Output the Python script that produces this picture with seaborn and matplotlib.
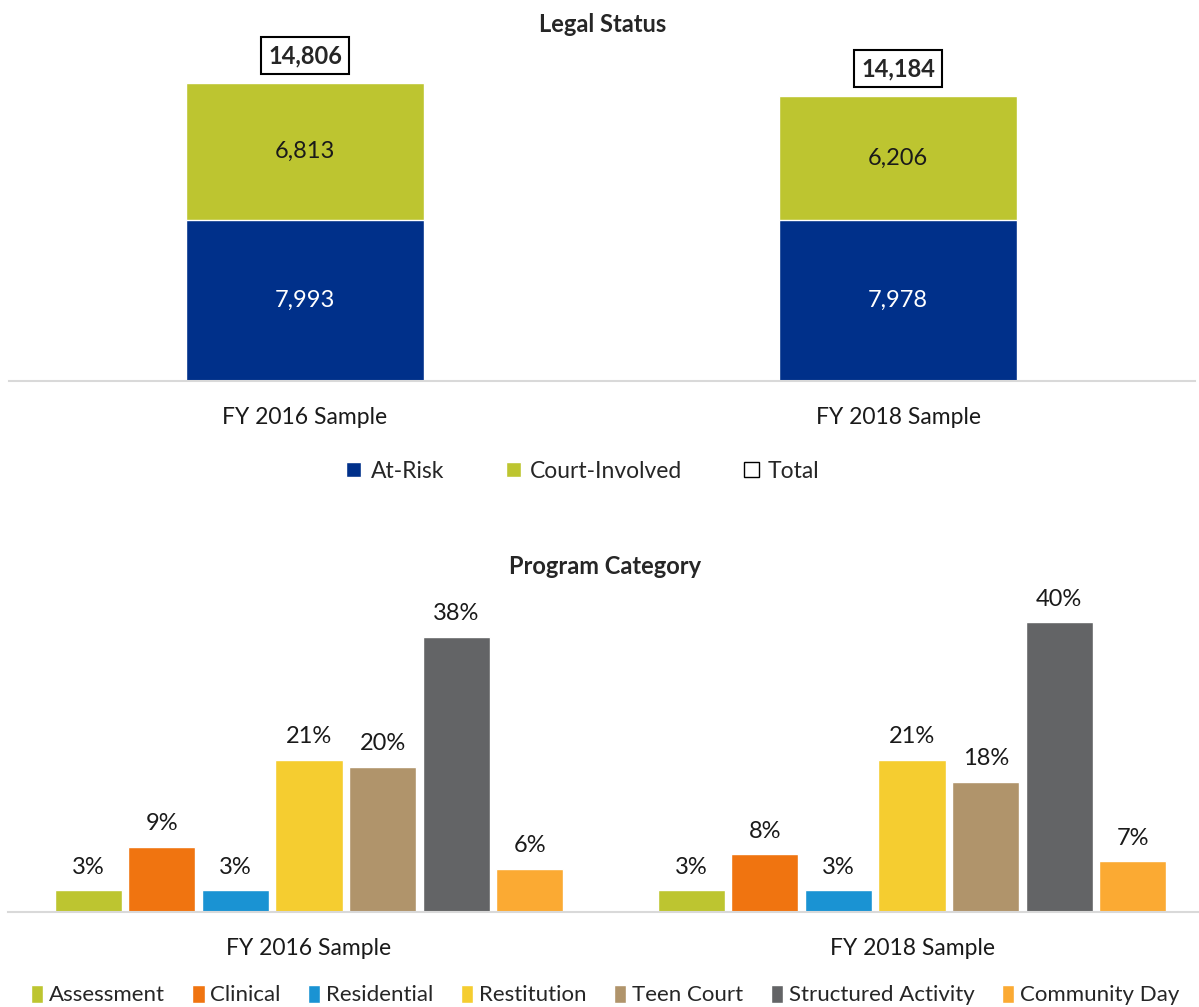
import numpy as np
import pandas as pd
import seaborn as sns
import matplotlib.pyplot as plt
from matplotlib.patches import Patch

# data
samples = ["FY 2016 Sample", "FY 2018 Sample"]
at_risk = [7993, 7978]
court_involved = [6813, 6206]

categories = ["Assessment", "Clinical", "Residential", "Restitution",
              "Teen Court", "Structured Activity", "Community Day"]
pct_2016 = [3, 9, 3, 21, 20, 38, 6]
pct_2018 = [3, 8, 3, 21, 18, 40, 7]

status_colors = {"At-Risk": "#00308A", "Court-Involved": "#BDC530"}
cat_colors = ["#BDC530", "#F07410", "#1A93D3", "#F5CD30",
              "#B0946B", "#636466", "#FBAA33"]

sns.set_theme(style="white")
plt.rcParams['font.family'] = ['Lato', 'DejaVu Sans']

W, H = 1199, 1007
fig = plt.figure(figsize=(W / 100, H / 100), dpi=100)

# ---------------- top chart: legal status ----------------
status_df = pd.DataFrame({"sample": samples, "at_risk": at_risk,
                          "court": court_involved})
status_df["total"] = status_df["at_risk"] + status_df["court"]

top_base, top_top = 381, 40
ax1 = fig.add_axes([8.5 / W, 1 - top_base / H, 1186 / W, (top_base - top_top) / H])
# stacked: draw total height in green, then at-risk over it
sns.barplot(data=status_df, x="sample", y="total", color=status_colors["Court-Involved"],
            width=0.4, ax=ax1, saturation=1)
sns.barplot(data=status_df, x="sample", y="at_risk", color=status_colors["At-Risk"],
            width=0.4, ax=ax1, saturation=1)
ax1.set_ylim(0, (top_base - top_top) * 14806 / 298)

for i, row in status_df.iterrows():
    ax1.text(i, row["at_risk"] / 2, f"{row['at_risk']:,}", ha="center", va="center",
             color="white", fontsize=17)
    ax1.text(i, row["at_risk"] + row["court"] / 2, f"{row['court']:,}", ha="center",
             va="center", color="#1a1a1a", fontsize=17)
    ax1.annotate(f"{row['total']:,}", (i, row["total"]), xytext=(0, 19.5),
                 textcoords="offset points", ha="center", va="center",
                 fontsize=17, fontweight="bold",
                 bbox=dict(boxstyle="square,pad=0.3", fc="white", ec="black", lw=1.5))

# ---------------- bottom chart: program category ----------------
cat_df = pd.DataFrame({
    "sample": np.repeat(samples, len(categories)),
    "category": categories * 2,
    "pct": pct_2016 + pct_2018,
})

bot_base, bot_top = 912, 585
ax2 = fig.add_axes([7.5 / W, 1 - bot_base / H, 1206 / W, (bot_base - bot_top) / H])
sns.barplot(data=cat_df, x="sample", y="pct", hue="category", palette=cat_colors,
            width=0.855, gap=0.09, ax=ax2, saturation=1, legend=False)
ax2.set_ylim(0, (bot_base - bot_top) / 7.25)
for cont in ax2.containers:
    ax2.bar_label(cont, fmt="%d%%", padding=9, fontsize=17, color="#1a1a1a")

# shared styling
for ax in [ax1, ax2]:
    sns.despine(ax=ax, left=True)
    ax.spines["bottom"].set_color("#D9D9D9")
    ax.spines["bottom"].set_linewidth(1.5)
    ax.set_yticks([])
    ax.set_xlabel("")
    ax.set_ylabel("")
    ax.tick_params(axis="x", length=0, pad=19, labelsize=16.5, labelcolor="#1a1a1a")

fig.text(603 / W, 1 - 24 / H, "Legal Status", ha="center", va="center",
         fontsize=17, fontweight="bold")
fig.text(605 / W, 1 - 567 / H, "Program Category", ha="center", va="center",
         fontsize=17, fontweight="bold")

# legends
top_handles = [Patch(fc=status_colors["At-Risk"], label="At-Risk"),
               Patch(fc=status_colors["Court-Involved"], label="Court-Involved"),
               Patch(fc="white", ec="black", lw=1, label="Total")]
fig.legend(handles=top_handles, loc="center", bbox_to_anchor=(583 / W, 1 - 471 / H),
           ncol=3, frameon=False, fontsize=16.5, handlelength=0.65, handleheight=0.65,
           handletextpad=0.4, columnspacing=2.7)

bot_handles = [Patch(fc=c, label=l) for c, l in zip(cat_colors, categories)]
fig.legend(handles=bot_handles, loc="center", bbox_to_anchor=(605 / W, 1 - 995 / H),
           ncol=7, frameon=False, fontsize=16, handlelength=0.55, handleheight=0.9,
           handletextpad=0.25, columnspacing=1.25)

fig.savefig("out.png", dpi=100)
